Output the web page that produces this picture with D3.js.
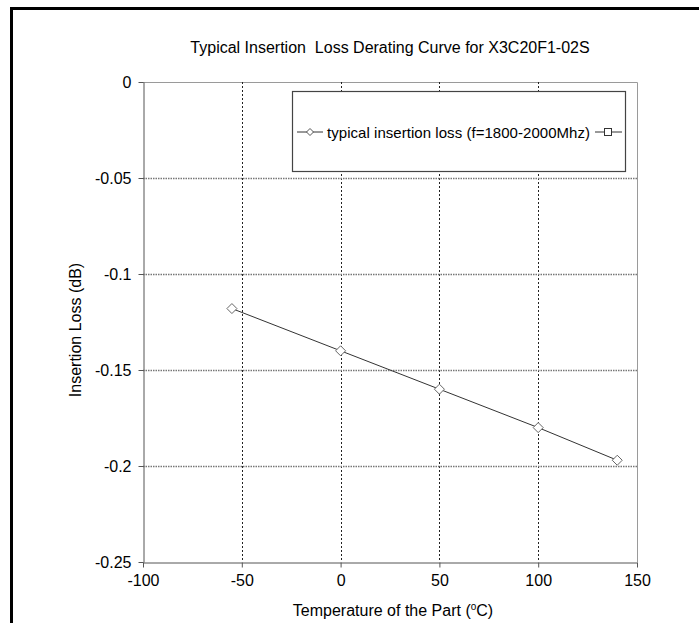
<!DOCTYPE html>
<html><head><meta charset="utf-8">
<script src="https://cdn.jsdelivr.net/npm/d3@7"></script>
<style>body{margin:0;background:#fff}svg{display:block}text{font-family:"Liberation Sans",Arial,sans-serif;fill:#000}</style>
</head><body><svg id="c" width="699" height="623"></svg>
<script>
const temperatures = [-55, 0, 50, 100, 140];
const insertionLoss = [-0.118, -0.14, -0.16, -0.18, -0.197];
const xTicks = [-100, -50, 0, 50, 100, 150];
const yTicks = [0, -0.05, -0.1, -0.15, -0.2, -0.25];
const titleText = "Typical Insertion  Loss Derating Curve for X3C20F1-02S";
const legendText = "typical insertion loss (f=1800-2000Mhz)";
const xLabel = "Temperature of the Part (";
const yLabel = "Insertion Loss (dB)";

const svg = d3.select("#c");
const L = 143, R = 637, T = 82, B = 562;
const x = d3.scaleLinear().domain([-100, 150]).range([L, R]);
const y = d3.scaleLinear().domain([-0.25, 0]).range([B, T]);

// outer frame
svg.append("path").attr("d", `M11.5,700 V8.5 H710`).attr("fill","none").attr("stroke","#000").attr("stroke-width",3);

// plot frame top/right
svg.append("path").attr("d", `M${L},${T+0.5} H${R+0.5} V${B}`).attr("fill","none").attr("stroke","#9a9a9a").attr("stroke-width",1);

// grid lines
xTicks.filter(v => v > -100 && v < 150).forEach(v => {
  svg.append("line").attr("x1", Math.round(x(v))+0.5).attr("x2", Math.round(x(v))+0.5)
    .attr("y1", T).attr("y2", B).attr("stroke","#222").attr("stroke-width",1).attr("stroke-dasharray","2,2");
});
yTicks.filter(v => v < 0 && v > -0.25).forEach(v => {
  svg.append("line").attr("x1", L).attr("x2", R).attr("y1", Math.round(y(v))+0.5).attr("y2", Math.round(y(v))+0.5)
    .attr("stroke","#777").attr("stroke-width",1.6).attr("stroke-dasharray","1.5,1");
});

// axes
const fmt = d => String(d);
const xAxis = d3.axisBottom(x).tickValues(xTicks).tickSize(5).tickSizeOuter(0).tickFormat(fmt);
const gx = svg.append("g").attr("transform", `translate(0,${B+0.5})`).call(xAxis);
gx.select(".domain").attr("stroke","#555");
gx.selectAll(".tick line").attr("stroke","#555");
gx.selectAll(".tick text").attr("font-size",16).attr("dy","0.8em").attr("y",11).attr("fill","#000");
gx.attr("font-family",null).attr("font-size",16);

const yAxis = d3.axisLeft(y).tickValues(yTicks).tickSize(5).tickSizeOuter(0).tickFormat(fmt);
const gy = svg.append("g").attr("transform", `translate(${L+0.5},0)`).call(yAxis);
gy.select(".domain").attr("stroke","#555");
gy.selectAll(".tick line").attr("stroke","#555");
gy.selectAll(".tick text").attr("font-size",16).attr("x",-12).attr("fill","#000");
gy.attr("font-family",null).attr("font-size",16);

// data line
const line = d3.line().x((d,i) => x(temperatures[i])).y(d => y(d));
svg.append("path").datum(insertionLoss).attr("d", line).attr("fill","none").attr("stroke","#333").attr("stroke-width",1);

const diamond = (cx, cy, s) => `M${cx},${cy-s} L${cx+s},${cy} L${cx},${cy+s} L${cx-s},${cy} Z`;
svg.selectAll(".pt").data(insertionLoss).enter().append("path")
  .attr("d", (d,i) => diamond(x(temperatures[i]), y(d), 5))
  .attr("fill","#fff").attr("stroke","#666").attr("stroke-width",1);

// legend
svg.append("rect").attr("x",292.5).attr("y",91.5).attr("width",333).attr("height",80)
  .attr("fill","#fff").attr("stroke","#444").attr("stroke-width",1.2);
const ly = 132;
svg.append("line").attr("x1",297).attr("x2",323).attr("y1",ly).attr("y2",ly).attr("stroke","#333");
svg.append("path").attr("d", diamond(310, ly, 3.5)).attr("fill","#fff").attr("stroke","#555");
svg.append("text").attr("x",327).attr("y",ly+5.5).attr("font-size",15).attr("textLength",263).text(legendText);
svg.append("line").attr("x1",595).attr("x2",622).attr("y1",ly).attr("y2",ly).attr("stroke","#333");
svg.append("rect").attr("x",604.5).attr("y",ly-3.5).attr("width",7).attr("height",7).attr("fill","#fff").attr("stroke","#333");

// title
svg.append("text").attr("x",390).attr("y",53).attr("text-anchor","middle").attr("font-size",16)
  .style("white-space","pre").text(titleText);

// axis labels
const xl = svg.append("text").attr("x",393).attr("y",616).attr("text-anchor","middle").attr("font-size",16);
xl.append("tspan").text(xLabel);
xl.append("tspan").attr("font-size",10).attr("dy",-6).text("o");
xl.append("tspan").attr("dy",6).text("C)");

svg.append("text").attr("transform","translate(81,330) rotate(-90)").attr("text-anchor","middle").attr("font-size",16).text(yLabel);
</script></body></html>
